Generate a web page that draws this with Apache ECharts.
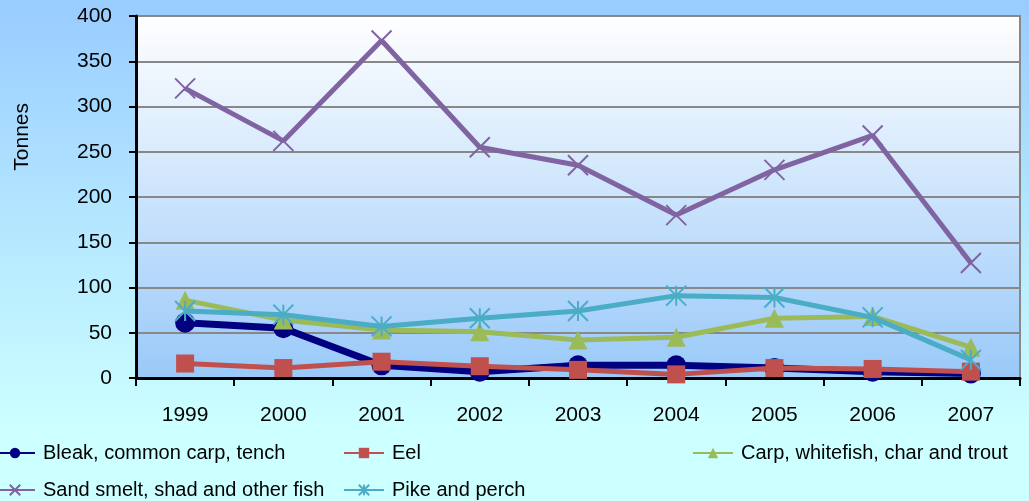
<!DOCTYPE html>
<html><head><meta charset="utf-8">
<script src="https://cdn.jsdelivr.net/npm/echarts@6/dist/echarts.min.js"></script>
<style>html,body{margin:0;padding:0;}#c{width:1029px;height:501px;}</style>
</head><body><div id="c"></div>
<script>
const categories = ['1999','2000','2001','2002','2003','2004','2005','2006','2007'];
const bleak = [61, 55, 14, 7, 14, 14, 11, 7, 5];
const eel = [16, 11, 18, 13, 9, 4, 11, 10, 7];
const carp = [86, 64, 53, 51, 42, 45, 66, 68, 34];
const sandSmelt = [320, 262, 373, 255, 235, 180, 230, 268, 127];
const pike = [74, 70, 57, 66, 74, 91, 89, 67, 20];
const yTicks = [0, 50, 100, 150, 200, 250, 300, 350, 400];

const names = ['Bleak, common carp, tench','Eel','Carp, whitefish, char and trout','Sand smelt, shad and other fish','Pike and perch'];
const XPATH = 'path://M0,0L10,10M10,0L0,10';
const STAR = 'path://M5,0L5,10M0,0L10,10M10,0L0,10';
const chart = echarts.init(document.getElementById('c'));
const font = 'Liberation Sans, Arial, sans-serif';
function legend(name, left, top){
  return {data:[name], left:left, top:top, itemWidth:40, itemHeight:13, itemGap:0, padding:0,
    textStyle:{fontFamily:font, fontSize:20, color:'#000', padding:[0,0,0,3]}};
}
chart.setOption({
  animation:false,
  backgroundColor:{type:'linear',x:0,y:0,x2:0,y2:1,colorStops:[{offset:0,color:'#99ccff'},{offset:0.85,color:'#ccffff'},{offset:1,color:'#ccffff'}]},
  grid:{left:136,right:9,top:16,bottom:123,show:true,borderColor:'#888',borderWidth:2,
    backgroundColor:{type:'linear',x:0,y:0,x2:0,y2:1,colorStops:[{offset:0,color:'#ffffff'},{offset:1,color:'#99c9f9'}]}},
  graphic:[{type:'text',left:12,top:103,rotation:Math.PI/2,style:{text:'Tonnes',fontFamily:font,fontSize:21,fill:'#000'}}],
  legend:[
    legend(names[0], -6, 443),
    legend(names[1], 343, 443),
    legend(names[2], 692, 443),
    legend(names[3], -6, 480),
    legend(names[4], 343, 480)
  ],
  xAxis:{type:'category',data:categories,boundaryGap:true,
    axisLine:{lineStyle:{color:'#000',width:3}},
    axisTick:{show:true,length:8,lineStyle:{color:'#000',width:2}},
    axisLabel:{fontFamily:font,fontSize:21,color:'#000',margin:27}},
  yAxis:{type:'value',min:0,max:400,interval:50,
    axisLine:{show:true,lineStyle:{color:'#000',width:3}},
    axisTick:{show:true,length:7,lineStyle:{color:'#000',width:2}},
    axisLabel:{fontFamily:font,fontSize:21,color:'#000',margin:24,
      formatter:function(v){return yTicks.indexOf(v)>=0?String(v):'';}},
    splitLine:{lineStyle:{color:'#888',width:2}}},
  series:[
    {name:names[0],type:'line',data:bleak,symbol:'circle',symbolSize:20,z:2,
      lineStyle:{color:'#000080',width:7},itemStyle:{color:'#000080'}},
    {name:names[1],type:'line',data:eel,symbol:'rect',symbolSize:18,z:3,
      lineStyle:{color:'#c0504d',width:5},itemStyle:{color:'#c0504d'}},
    {name:names[2],type:'line',data:carp,symbol:'triangle',symbolSize:19,z:4,
      lineStyle:{color:'#9bbb59',width:5},itemStyle:{color:'#9bbb59'}},
    {name:names[3],type:'line',data:sandSmelt,symbol:XPATH,symbolSize:20,z:5,
      lineStyle:{color:'#8064a2',width:5},itemStyle:{color:'#8064a2',borderColor:'#8064a2',borderWidth:2}},
    {name:names[4],type:'line',data:pike,symbol:STAR,symbolSize:20,z:6,
      lineStyle:{color:'#4bacc6',width:5},itemStyle:{color:'#4bacc6',borderColor:'#4bacc6',borderWidth:2}}
  ]
});
</script></body></html>
